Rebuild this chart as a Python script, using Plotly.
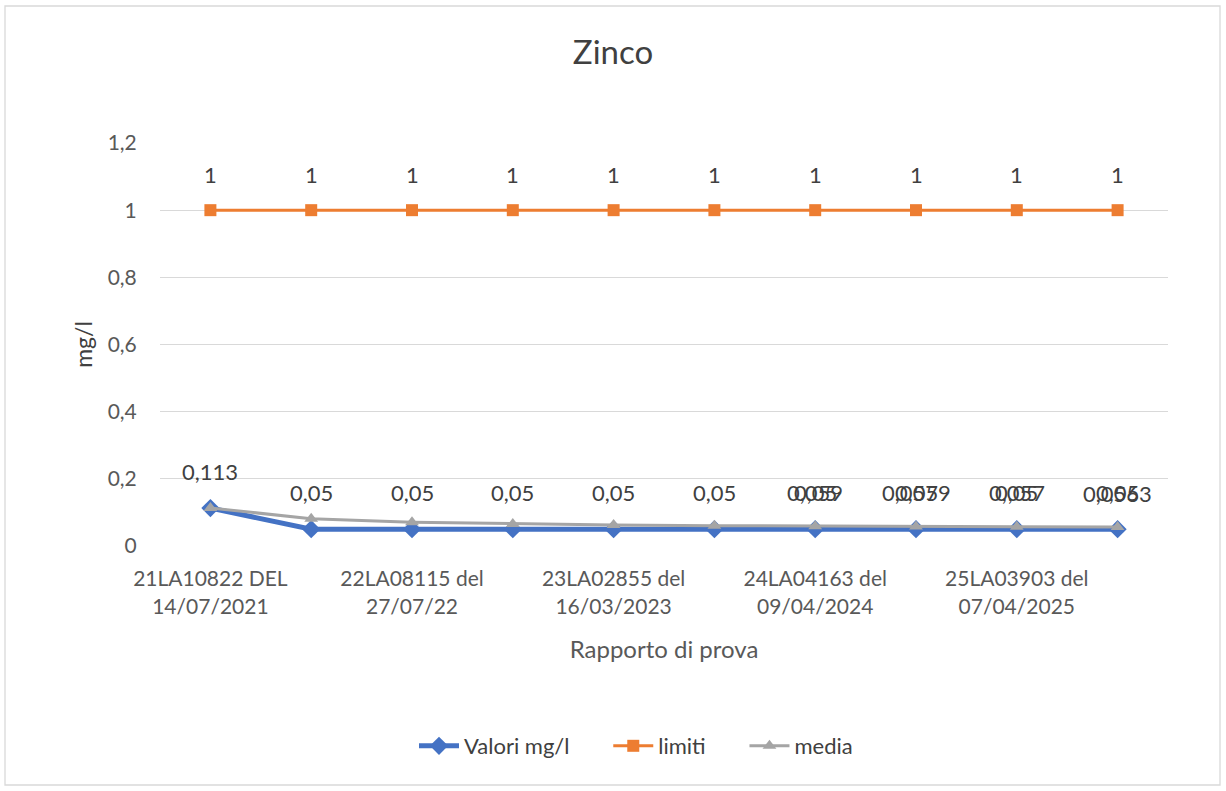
import plotly.graph_objects as go

# Test reports (every other one is labelled on the axis)
tick_labels = [
    "21LA10822 DEL<br>14/07/2021",
    "22LA08115 del<br>27/07/22",
    "23LA02855 del<br>16/03/2023",
    "24LA04163 del<br>09/04/2024",
    "25LA03903 del<br>07/04/2025",
]
tick_positions = [0, 2, 4, 6, 8]

valori = [0.113, 0.05, 0.05, 0.05, 0.05, 0.05, 0.05, 0.05, 0.05, 0.05]
limiti = [1, 1, 1, 1, 1, 1, 1, 1, 1, 1]
media = [0.113, 0.0815, 0.071, 0.06575, 0.0626, 0.0605, 0.059, 0.0579, 0.057, 0.0563]

# which points carry a value label
valori_labelled = [0, 1, 2, 3, 4, 5, 6, 7, 8, 9]
media_labelled = [6, 7, 8, 9]

x = list(range(len(valori)))

FONT = "Lato, 'Open Sans', sans-serif"
TXT = "#404040"
AX = "#595959"
LBL = 22
PAD = "\u00a0" * 6  # extra room between legend entries


def it(v):
    return ("%g" % v).replace(".", ",")


fig = go.Figure()
fig.add_trace(go.Scatter(
    x=x, y=valori, name="Valori mg/l" + PAD, mode="lines+markers",
    line=dict(color="#4472C4", width=5),
    marker=dict(symbol="diamond", size=14, color="#4472C4"),
))
fig.add_trace(go.Scatter(
    x=x, y=limiti, name="limiti" + PAD, mode="lines+markers",
    line=dict(color="#ED7D31", width=3),
    marker=dict(symbol="square", size=12, color="#ED7D31"),
))
fig.add_trace(go.Scatter(
    x=x, y=media, name="media", mode="lines+markers",
    line=dict(color="#A5A5A5", width=3),
    marker=dict(symbol="triangle-up", size=12, color="#A5A5A5"),
))

annotations = []
for i in x:
    annotations.append(dict(x=i, y=limiti[i], text=it(limiti[i]), showarrow=False,
                            yshift=36, font=dict(size=LBL, color=TXT, family=FONT)))
for i in valori_labelled:
    annotations.append(dict(x=i, y=valori[i], text=it(valori[i]), showarrow=False,
                            yshift=37, font=dict(size=LBL, color=TXT, family=FONT)))
for i in media_labelled:
    annotations.append(dict(x=i, y=media[i], text=it(media[i]), showarrow=False,
                            yshift=34, font=dict(size=LBL, color=TXT, family=FONT)))

W, H = 1226, 791
ML, MR, MT, MB = 160, 58, 143, 245
pw, ph = W - ML - MR, H - MT - MB


def px_x(p):
    return (p - ML) / pw


def px_y(p):
    return (H - MB - p) / ph


fig.update_layout(
    width=W, height=H,
    margin=dict(l=ML, r=MR, t=MT, b=MB),
    paper_bgcolor="white", plot_bgcolor="white",
    font=dict(family=FONT, color=TXT, size=20),
    title=dict(text="Zinco", x=0.5, xanchor="center", y=1 - 52 / H, yanchor="middle",
               font=dict(size=33, color=TXT, family=FONT)),
    xaxis=dict(
        range=[-0.5, len(x) - 0.5], tickmode="array",
        tickvals=tick_positions, ticktext=tick_labels,
        showgrid=False, zeroline=False, showline=False,
        ticks="outside", ticklen=14, tickcolor="rgba(0,0,0,0)",
        tickfont=dict(size=21, color=AX),
        title=dict(text="Rapporto di prova", font=dict(size=24, color=AX), standoff=24),
    ),
    yaxis=dict(
        range=[0, 1.2], tickmode="array",
        tickvals=[0, 0.2, 0.4, 0.6, 0.8, 1, 1.2],
        ticktext=["0", "0,2", "0,4", "0,6", "0,8", "1", "1,2"],
        showgrid=True, gridcolor="#D9D9D9", gridwidth=1.3,
        zeroline=False, showline=False,
        ticks="outside", ticklen=18, tickcolor="rgba(0,0,0,0)",
        tickfont=dict(size=21, color=AX),
        title=dict(text="mg/l", font=dict(size=23, color=TXT), standoff=8),
    ),
    legend=dict(orientation="h", x=px_x(636), xanchor="center", y=px_y(746), yanchor="middle",
                font=dict(size=22, color=TXT), itemwidth=40, tracegroupgap=0),
    showlegend=True,
    annotations=annotations,
    shapes=[dict(type="rect", xref="paper", yref="paper",
                 x0=px_x(5), x1=px_x(1220), y0=px_y(785), y1=px_y(6),
                 line=dict(color="#D9D9D9", width=1.3), fillcolor="rgba(0,0,0,0)", layer="below")],
)

fig.write_html("out.html")
